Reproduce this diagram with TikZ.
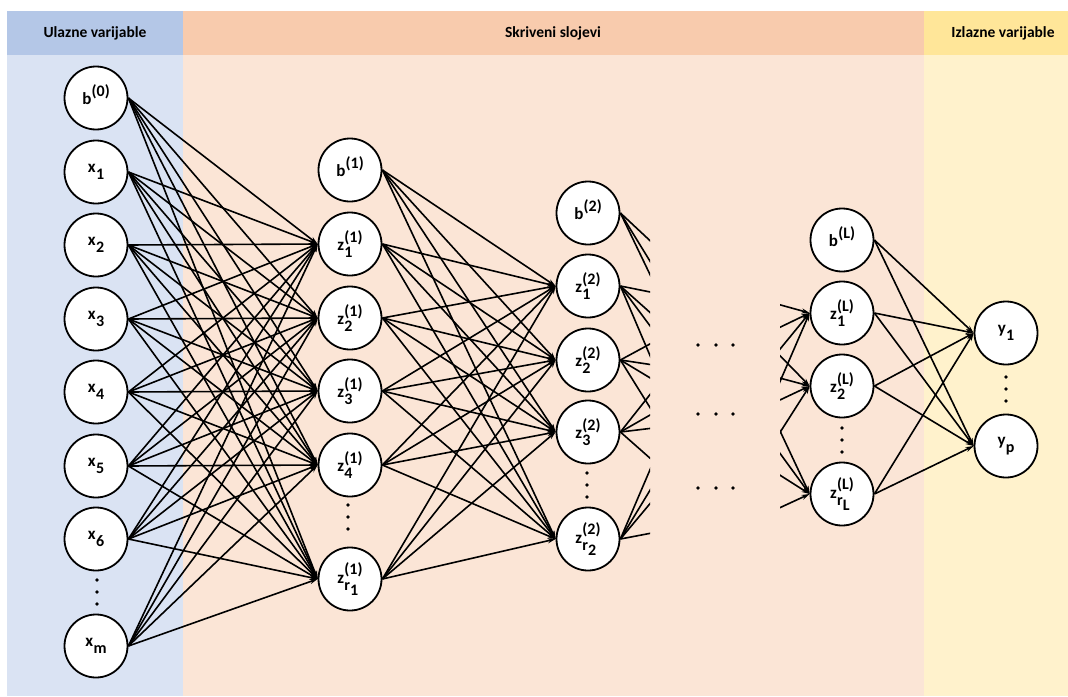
\documentclass[tikz,border=0pt]{standalone}
\usepackage{fontspec}
\setmainfont{Carlito}
\usetikzlibrary{arrows.meta}
\definecolor{hblue}{HTML}{B4C7E7}
\definecolor{bblue}{HTML}{DAE3F3}
\definecolor{horange}{HTML}{F8CBAD}
\definecolor{borange}{HTML}{FBE5D6}
\definecolor{hyellow}{HTML}{FFE699}
\definecolor{byellow}{HTML}{FFF2CC}
\newdimen\mywd
\newcommand\scr{\fontsize{16}{16}\selectfont}
\newcommand\nlab[3]{#1\kern0.3pt\setbox0=\hbox{\scr #2}\setbox2=\hbox{\scr #3}\mywd=\wd0 \ifdim\wd2>\mywd \mywd=\wd2 \fi\rlap{\raise8.5pt\box0}\rlap{\lower7pt\box2}\kern\mywd}
\begin{document}
\begin{tikzpicture}[x=1pt,y=-1pt,
  neuron/.style={circle,draw=black,line width=1.8pt,fill=white,minimum size=63pt,inner sep=0pt,font=\fontsize{17}{17}\selectfont\bfseries},
  edge/.style={line width=1.6pt,-{Stealth[length=8pt,width=5pt]}},
  stub/.style={line width=1.6pt},
  hdr/.style={font=\fontsize{15.5}{15.5}\selectfont\bfseries},
  vdot/.style={fill=black,circle,inner sep=0pt,minimum size=3.8pt}]
\useasboundingbox (0,0) rectangle (1068,696);
% backgrounds
\fill[white] (0,0) rectangle (1068,696);
\fill[hblue] (7,11) rectangle (183,55);
\fill[bblue] (7,55) rectangle (183,696);
\fill[horange] (183,11) rectangle (924,55);
\fill[borange] (183,55) rectangle (924,696);
\fill[hyellow] (924,11) rectangle (1068,55);
\fill[byellow] (924,55) rectangle (1068,696);
\node[hdr] (h1) at (95,33) {Ulazne varijable};
\node[hdr] (h2) at (553,33) {Skriveni slojevi};
\node[hdr] (h3) at (1003,33) {Izlazne varijable};
% layer 0
\node[neuron] (b0) at (96,98) {\nlab{b}{(0)}{}};
\node[neuron] (x1) at (96,172) {\nlab{x}{}{1}};
\node[neuron] (x2) at (96,245) {\nlab{x}{}{2}};
\node[neuron] (x3) at (96,319) {\nlab{x}{}{3}};
\node[neuron] (x4) at (96,392) {\nlab{x}{}{4}};
\node[neuron] (x5) at (96,466) {\nlab{x}{}{5}};
\node[neuron] (x6) at (96,539) {\nlab{x}{}{6}};
\node[neuron] (xm) at (96,646) {\nlab{x}{}{m}};
% layer 1
\node[neuron] (b1) at (350,170) {\nlab{b}{(1)}{}};
\node[neuron] (za1) at (350,244) {\nlab{z}{(1)}{1}};
\node[neuron] (za2) at (350,318) {\nlab{z}{(1)}{2}};
\node[neuron] (za3) at (350,391) {\nlab{z}{(1)}{3}};
\node[neuron] (za4) at (350,465) {\nlab{z}{(1)}{4}};
\node[neuron] (zar) at (350,579) {\nlab{z}{(1)}{r\lower5pt\hbox{1}}};
% layer 2
\node[neuron] (b2) at (588,213) {\nlab{b}{(2)}{}};
\node[neuron] (zb1) at (588,286) {\nlab{z}{(2)}{1}};
\node[neuron] (zb2) at (588,360) {\nlab{z}{(2)}{2}};
\node[neuron] (zb3) at (588,432) {\nlab{z}{(2)}{3}};
\node[neuron] (zbr) at (588,539) {\nlab{z}{(2)}{r\lower5pt\hbox{2}}};
% layer L
\node[neuron] (bL) at (842,240) {\nlab{b}{(L)}{}};
\node[neuron] (zL1) at (842,313) {\nlab{z}{(L)}{1}};
\node[neuron] (zL2) at (842,386) {\nlab{z}{(L)}{2}};
\node[neuron] (zLr) at (842,494) {\nlab{z}{(L)}{r\lower5pt\hbox{L}}};
% outputs
\node[neuron] (y1) at (1006,333) {\nlab{y}{}{1}};
\node[neuron] (yp) at (1006,446) {\nlab{y}{}{p}};
% virtual coordinates for cut connectors
\coordinate (v1) at (720,306);
\coordinate (v2) at (720,375);
\coordinate (v3) at (720,420);
\coordinate (v4) at (720,520);
\coordinate (u1) at (712,286);
\coordinate (u2) at (712,360);
\coordinate (u3) at (712,432);
\coordinate (u4) at (712,539);
% edges
\foreach \s in {b0,x1,x2,x3,x4,x5,x6,xm}
  \foreach \t in {za1,za2,za3,za4,zar}
    \draw[edge] (\s.east) -- (\t.west);
\foreach \s in {b1,za1,za2,za3,za4,zar}
  \foreach \t in {zb1,zb2,zb3,zbr}
    \draw[edge] (\s.east) -- (\t.west);
\foreach \s in {bL,zL1,zL2,zLr}
  \foreach \t in {y1,yp}
    \draw[edge] (\s.east) -- (\t.west);
\begin{scope}
\clip (600,0) rectangle (650,696);
\foreach \t in {v1,v2,v3} \draw[stub] (b2.east) -- (\t);
\foreach \s in {zb1,zb2,zb3,zbr}
  \foreach \t in {v1,v2,v3,v4}
    \draw[stub] (\s.east) -- (\t);
\end{scope}
\begin{scope}
\clip (780,0) rectangle (830,696);
\foreach \s in {u1,u2,u3,u4}
  \foreach \t in {zL1,zL2,zLr}
    \draw[edge] (\s) -- (\t.west);
\end{scope}
% vertical dots
\foreach \x/\y in {97/580,348/505,587/473,842/428,1006/377}
  \foreach \d in {0,12,24}
    \node[vdot] (d\x-\d) at (\x,\y+\d) {};
% horizontal dots
\foreach \y in {345,414,488}
  \foreach \x in {698,716,733}
    \node[vdot] (h\x-\y) at (\x,\y) {};
\end{tikzpicture}
\end{document}
